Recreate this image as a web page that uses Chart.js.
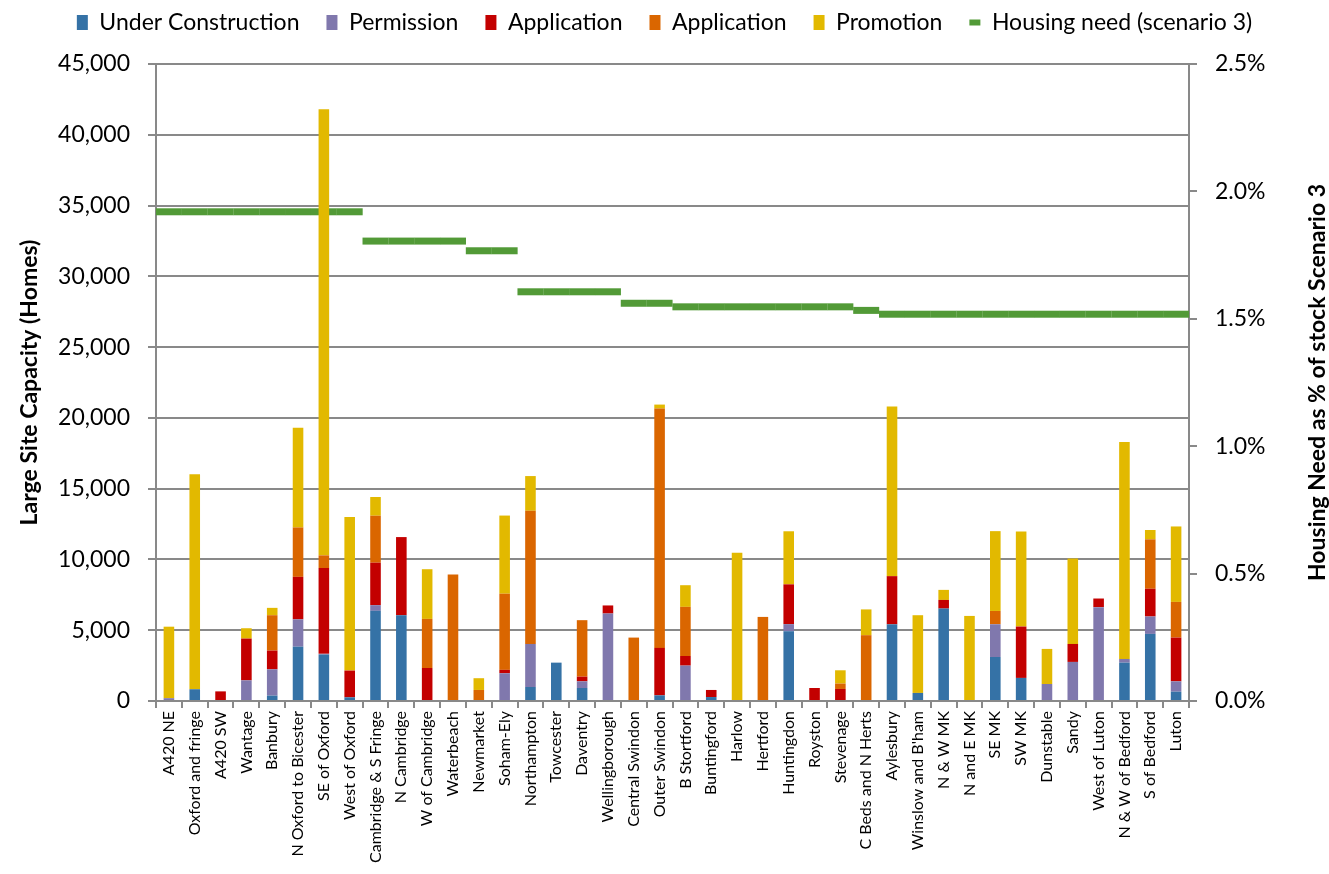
<!DOCTYPE html>
<html>
<head>
<meta charset="utf-8">
<script src="https://cdn.jsdelivr.net/npm/chart.js@4"></script>
<style>
  body { margin: 0; background: #fff; }
  #wrap { width: 1329px; height: 874px; }
</style>
</head>
<body>
<div id="wrap"><canvas id="chart" width="1329" height="874"></canvas></div>
<script>
// site groups along the x axis
const categories = ['A420 NE', 'Oxford and fringe', 'A420 SW', 'Wantage', 'Banbury', 'N Oxford to Bicester',
    'SE of Oxford', 'West of Oxford', 'Cambridge & S Fringe', 'N Cambridge', 'W of Cambridge', 'Waterbeach',
    'Newmarket', 'Soham-Ely', 'Northampton', 'Towcester', 'Daventry', 'Wellingborough', 'Central Swindon',
    'Outer Swindon', 'B Stortford', 'Buntingford', 'Harlow', 'Hertford', 'Huntingdon', 'Royston', 'Stevenage',
    'C Beds and N Herts', 'Aylesbury', "Winslow and B'ham", 'N & W MK', 'N and E MK', 'SE MK', 'SW MK',
    'Dunstable', 'Sandy', 'West of Luton', 'N & W of Bedford', 'S of Bedford', 'Luton'];

// homes
const underConstruction = [0, 830, 0, 0, 380, 3840, 3280, 260, 6370, 6060, 0, 0, 0, 0, 990, 2710, 920, 0, 0, 400,
    0, 280, 0, 0, 4930, 0, 0, 0, 5420, 570, 6530, 0, 3110, 1630, 0, 0, 0, 2710, 4740, 660];
const permission = [200, 0, 0, 1460, 1860, 1930, 50, 0, 400, 0, 0, 0, 0, 1960, 3040, 0, 470, 6180, 0, 0,
    2500, 0, 0, 0, 500, 0, 0, 0, 0, 0, 0, 0, 2310, 0, 1200, 2760, 6630, 260, 1230, 730];
const applicationA = [0, 0, 680, 2950, 1320, 3000, 6060, 1890, 3000, 5520, 2330, 0, 0, 240, 0, 0, 330, 570, 0, 3350,
    680, 500, 0, 0, 2810, 920, 850, 0, 3400, 0, 610, 0, 0, 3630, 0, 1270, 610, 0, 1960, 3090];
const applicationB = [0, 0, 0, 0, 2500, 3490, 900, 0, 3320, 0, 3470, 8940, 780, 5380, 9410, 0, 3990, 0, 4480, 16910,
    3470, 0, 0, 5940, 0, 0, 380, 4650, 0, 0, 0, 0, 940, 0, 0, 0, 0, 0, 3490, 2520];
const promotion = [5050, 15180, 0, 730, 520, 7050, 31520, 10850, 1320, 0, 3510, 0, 830, 5520, 2450, 0, 0, 0, 0, 280,
    1530, 0, 10470, 0, 3750, 0, 940, 1820, 11980, 5490, 710, 6010, 5640, 6720, 2480, 6040, 0, 15330, 660, 5330];

// housing need, % of stock
const housingNeed = [1.92, 1.92, 1.92, 1.92, 1.92, 1.92, 1.92, 1.92, 1.805, 1.805, 1.805, 1.805, 1.767, 1.767,
    1.606, 1.606, 1.606, 1.606, 1.561, 1.561, 1.547, 1.547, 1.547, 1.547, 1.547, 1.547, 1.547, 1.533,
    1.518, 1.518, 1.518, 1.518, 1.518, 1.518, 1.518, 1.518, 1.518, 1.518, 1.518, 1.518];

const leftTicks = { min: 0, max: 45000, step: 5000 };
const rightTicks = { min: 0, max: 2.5, step: 0.5 };
const leftAxisTitle = 'Large Site Capacity (Homes)';
const rightAxisTitle = 'Housing Need as % of stock Scenario 3';

const FONT = 'Lato';
const GRID = '#898989';

function bar(label, data, color) {
    return {
        type: 'bar', label, data, backgroundColor: color, borderWidth: 0,
        barPercentage: 0.41, categoryPercentage: 1, yAxisID: 'y', order: 1
    };
}

const rightTitle = {
    id: 'rightTitle',
    beforeInit(chart) {
        // fixed legend band above the plot
        const fit = chart.legend.fit;
        chart.legend.fit = function () { fit.call(this); this.height = 64; };
    },
    afterLayout(chart) {
        // pull legend row up a little (wide label padding pushes it down)
        chart.legend.top = -16;
    },
    afterDraw(chart) {
        const { ctx, chartArea } = chart;
        const s = chart.scales.y1;
        ctx.save();
        ctx.translate(s.right - 11, (chartArea.top + chartArea.bottom) / 2);
        ctx.rotate(-Math.PI / 2);
        ctx.font = `bold 23px ${FONT}`;
        ctx.fillStyle = '#000';
        ctx.textAlign = 'center';
        ctx.textBaseline = 'middle';
        ctx.fillText(rightAxisTitle, 0, 0);
        ctx.restore();
    }
};

new Chart(document.getElementById('chart'), {
    data: {
        labels: categories,
        datasets: [
            bar('Under Construction', underConstruction, '#3572a6'),
            bar('Permission', permission, '#8078ad'),
            bar('Application', applicationA, '#c30000'),
            bar('Application', applicationB, '#da6600'),
            bar('Promotion', promotion, '#e2b900'),
            {
                type: 'line', label: 'Housing need (scenario 3)', data: housingNeed, yAxisID: 'y1', order: 2,
                showLine: false, borderColor: '#529a37', backgroundColor: '#529a37',
                pointStyle: 'line', pointRadius: 13, pointHoverRadius: 13, pointBorderWidth: 7,
                pointBorderColor: '#529a37'
            }
        ]
    },
    options: {
        responsive: false,
        animation: false,
        layout: { padding: 0 },
        plugins: {
            tooltip: { enabled: false },
            legend: {
                position: 'top',
                labels: {
                    font: { family: FONT, size: 23 },
                    color: '#000',
                    usePointStyle: true,
                    pointStyleWidth: 11,
                    boxHeight: 15,
                    padding: 27,
                    generateLabels(chart) {
                        const items = Chart.defaults.plugins.legend.labels.generateLabels(chart);
                        items.forEach(it => {
                            const ds = chart.data.datasets[it.datasetIndex];
                            if (ds.type === 'line') {
                                it.pointStyle = 'line';
                                it.lineWidth = 6;
                                it.strokeStyle = ds.borderColor;
                            } else {
                                it.pointStyle = 'rect';
                                it.lineWidth = 0;
                                it.strokeStyle = ds.backgroundColor;
                            }
                        });
                        return items;
                    }
                }
            }
        },
        scales: {
            x: {
                stacked: true,
                offset: true,
                grid: { drawOnChartArea: false, offset: true, color: GRID, lineWidth: 2, tickLength: 7 },
                border: { color: GRID, width: 2 },
                ticks: {
                    autoSkip: false, minRotation: 90, maxRotation: 90, padding: 3,
                    font: { family: FONT, size: 16 }, color: '#000'
                },
                afterFit(s) { s.height = 173; }
            },
            y: {
                stacked: true,
                position: 'left',
                min: leftTicks.min, max: leftTicks.max,
                grid: { color: GRID, lineWidth: 2, tickLength: 8 },
                border: { color: GRID, width: 2 },
                ticks: {
                    stepSize: leftTicks.step, padding: 18,
                    font: { family: FONT, size: 23 }, color: '#000',
                    callback: v => v.toLocaleString('en-GB')
                },
                title: {
                    display: true, text: leftAxisTitle, color: '#000',
                    font: { family: FONT, size: 23, weight: 'bold' },
                    padding: { top: 16, bottom: 0 }
                },
                afterFit(s) { s.width = 156; }
            },
            y1: {
                position: 'right',
                min: rightTicks.min, max: rightTicks.max,
                grid: { drawOnChartArea: false, color: GRID, lineWidth: 2, tickLength: 8 },
                border: { color: GRID, width: 2 },
                ticks: {
                    stepSize: rightTicks.step, padding: 18,
                    font: { family: FONT, size: 23 }, color: '#000',
                    callback: v => v.toFixed(1) + '%'
                },
                afterFit(s) { s.width = 140; }
            }
        }
    },
    plugins: [rightTitle]
});
</script>
</body>
</html>
